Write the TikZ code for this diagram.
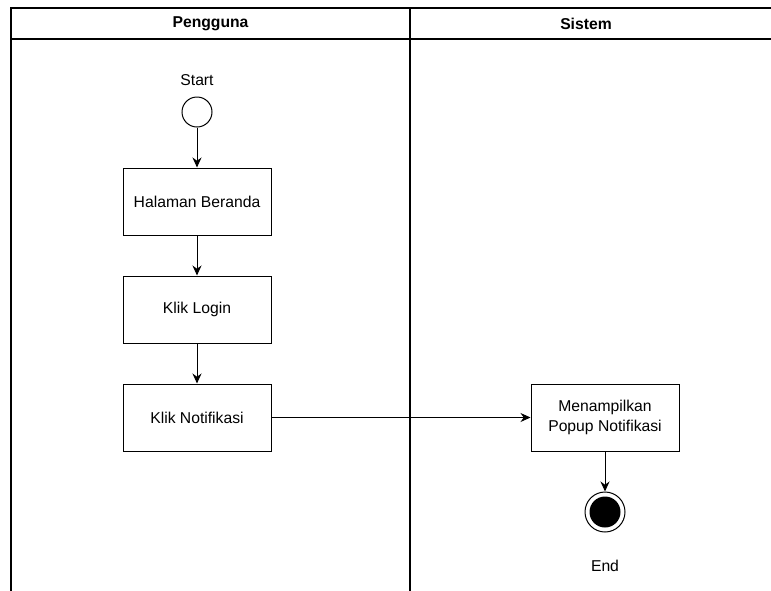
\documentclass[tikz,border=0pt]{standalone}
\usepackage{fontspec}
\setmainfont{Liberation Sans}
\usetikzlibrary{arrows.meta}
\usetikzlibrary{positioning}

\begin{document}
\begin{tikzpicture}[x=1pt,y=-1pt,node distance=40pt,font=\fontsize{15.7}{19.5}\selectfont]
	\tikzset{
		N/.style={draw,line width=1pt,minimum width=148pt,minimum height=67pt,align=center,inner sep=0pt},
		T/.style={inner sep=0pt},
		H/.style={font=\fontsize{15.7}{19.5}\selectfont\bfseries},
	}
	\useasboundingbox (0,0) rectangle (771,590);
	
	% swimlanes
	\draw[line width=1.3pt] (11,595) -- (11,8) -- (775,8);
	\draw[line width=1.3pt] (11,39) -- (775,39);
	\draw[line width=1.3pt] (410,8) -- (410,595);
	\node[H] (h1) at (210.5,23.5) {Pengguna};
	\node[H] (h2) at (586,23.5) {Sistem};
	
	\node[draw,circle,line width=1pt,minimum size=30pt,inner sep=0pt] (1) at (197,112) {};
	\node[T,above=11pt of 1] (s) {Start};
	\node[N,below=of 1] (2) {Halaman Beranda};
	\node[N,below=of 2] (3) {Klik Login};
	\node[N,below=of 3] (4) {Klik Notifikasi};
	\node[N,right=259pt of 4] (5) {Menampilkan\\ Popup Notifikasi};
	\node[draw,circle,line width=1pt,minimum size=40pt,inner sep=0pt,below=of 5] (6) {};
	\node[circle,fill=black,minimum size=31pt,inner sep=0pt] (6b) at (6) {};
	\node[T,below=27pt of 6] (7) {End};
	
	\path[->,>={Stealth[length=10pt,width=9pt]},line width=1pt]
	(1) edge (2)
	(2) edge (3)
	(3) edge (4)
	(4) edge (5)
	(5) edge (6) ;
\end{tikzpicture}
\end{document}
